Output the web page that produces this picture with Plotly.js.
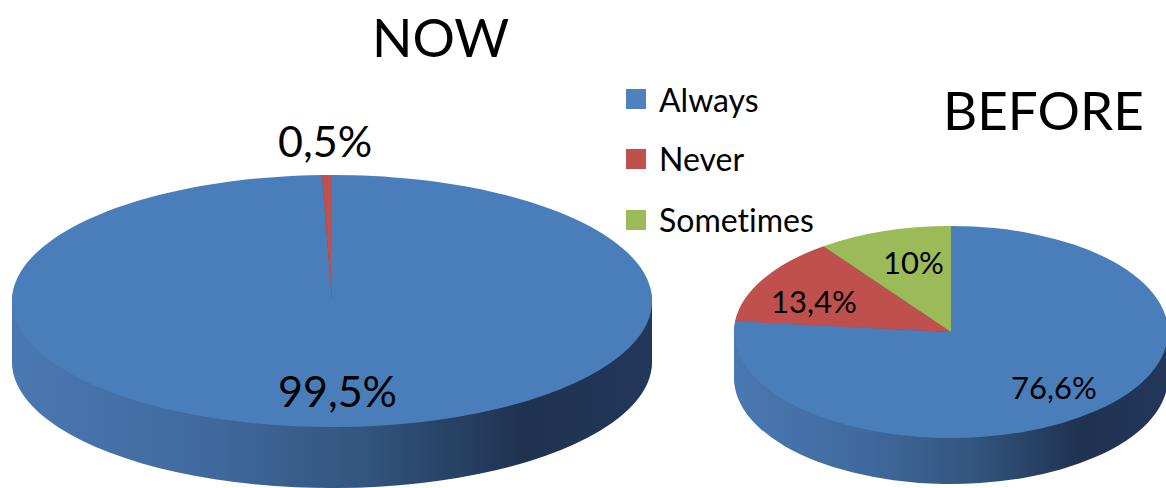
<!DOCTYPE html>
<html><head><meta charset="utf-8">
<script src="https://cdn.plot.ly/plotly-3.0.1.min.js"></script>
<style>html,body{margin:0;padding:0;background:#fff;} #chart{width:1166px;height:488px;}
svg text{font-variant-ligatures:none;font-feature-settings:"liga" 0,"clig" 0;}</style>
</head><body><div id="chart"></div>
<script>
// ---------------- data ----------------
const categories = ['Always', 'Never', 'Sometimes'];
const nowLabels = ['Always', 'Never'];
const nowValues = [99.5, 0.5];
const beforeLabels = ['Always', 'Never', 'Sometimes'];
const beforeValues = [76.6, 13.4, 10];
const chartTitles = ['NOW', 'BEFORE'];

// ---------------- style ----------------
const W = 1166, H = 488;
const FONT = 'Lato, "Open Sans", sans-serif';
const topColors = {Always: '#4a7ebb', Never: '#c0504d', Sometimes: '#9bbb59'};
const legendColors = {Always: '#4f81bd', Never: '#c0504d', Sometimes: '#9bbb59'};
// disc geometry (pixels): centre, semi-axes, thickness
const discs = [
  {labels: nowLabels, values: nowValues, cx: 332, cy: 301, a: 320, b: 126, depth: 61, grad: 'sideGradNow',
   title: {x: 440, y: 37}, labelSize: 43, labelPos: [{x: 337, y: 390}, {x: 325, y: 141}]},
  {labels: beforeLabels, values: beforeValues, cx: 951, cy: 332, a: 217, b: 106, depth: 46, grad: 'sideGradBefore',
   title: {x: 1043, y: 110}, labelSize: 31, labelPos: [{x: 1054, y: 387}, {x: 814, y: 301}, {x: 913, y: 262}]}
];
const legendPos = {x: 626, ys: [99, 159, 220], box: 20, textX: 657, size: 32};

function domainFor(d, dy) {
  const halfW = d.b + 10;
  return {
    x: [(d.cx - halfW) / W, (d.cx + halfW) / W],
    y: [Math.max(0, 1 - (d.cy + dy + d.b) / H), 1 - (d.cy + dy - d.b) / H]
  };
}
function fmt(v) { return String(v).replace('.', ',') + '%'; }

// ---------------- traces ----------------
const traces = [];
const traceMeta = [];
discs.forEach((d, di) => {
  // side (thickness) layers, drawn first, from deepest upward
  const offs = [];
  for (let o = d.depth; o > 0; o -= 3) offs.push(o);
  offs.forEach(o => {
    traces.push({
      type: 'pie', labels: d.labels, values: d.values, sort: false, direction: 'clockwise', rotation: 0,
      domain: domainFor(d, o), textinfo: 'none', hoverinfo: 'skip', showlegend: false,
      marker: {colors: d.labels.map(() => '#2c4a73'), line: {width: 0}}
    });
    traceMeta.push({disc: di, side: true});
  });
  // top face
  traces.push({
    type: 'pie', labels: d.labels, values: d.values, sort: false, direction: 'clockwise', rotation: 0,
    domain: domainFor(d, 0), textinfo: 'none', hoverinfo: 'label+percent', showlegend: false,
    marker: {colors: d.labels.map(l => topColors[l]), line: {width: 0}}
  });
  traceMeta.push({disc: di, side: false});
});

// ---------------- annotations / legend ----------------
const annotations = [];
const shapes = [];
discs.forEach((d, di) => {
  annotations.push({text: chartTitles[di], x: d.title.x / W, y: 1 - d.title.y / H, xref: 'paper', yref: 'paper',
    xanchor: 'center', yanchor: 'middle', showarrow: false, font: {family: FONT, size: 53, color: '#000'}});
  d.values.forEach((v, i) => {
    const p = d.labelPos[i];
    annotations.push({text: fmt(v), x: p.x / W, y: 1 - p.y / H, xref: 'paper', yref: 'paper',
      xanchor: 'center', yanchor: 'middle', showarrow: false,
      font: {family: FONT, size: d.labelSize, color: '#000'}});
  });
});
categories.forEach((c, i) => {
  const yc = legendPos.ys[i];
  shapes.push({type: 'rect', xref: 'paper', yref: 'paper', line: {width: 0}, fillcolor: legendColors[c],
    x0: legendPos.x / W, x1: (legendPos.x + legendPos.box) / W,
    y0: 1 - (yc + legendPos.box / 2) / H, y1: 1 - (yc - legendPos.box / 2) / H});
  annotations.push({text: c, x: legendPos.textX / W, y: 1 - yc / H, xref: 'paper', yref: 'paper',
    xanchor: 'left', yanchor: 'middle', showarrow: false, font: {family: FONT, size: legendPos.size, color: '#000'}});
});

const layout = {
  width: W, height: H, margin: {l: 0, r: 0, t: 0, b: 0},
  paper_bgcolor: '#ffffff', plot_bgcolor: '#ffffff', showlegend: false,
  annotations: annotations, shapes: shapes
};

Plotly.newPlot('chart', traces, layout, {displayModeBar: false, responsive: false}).then(gd => {
  const layer = gd.querySelector('.pielayer');
  const svg = layer.ownerSVGElement;
  const NS = 'http://www.w3.org/2000/svg';
  const defs = document.createElementNS(NS, 'defs');
  svg.insertBefore(defs, svg.firstChild);
  const groups = layer.querySelectorAll(':scope > .trace');
  const made = {};
  gd.calcdata.forEach((cd, i) => {
    const cd0 = cd[0];
    const m = traceMeta[i];
    const d = discs[m.disc];
    const sx = d.a / cd0.r, sy = d.b / cd0.r;
    const g = groups[i];
    g.setAttribute('transform', `translate(${cd0.cx},${cd0.cy}) scale(${sx},${sy}) translate(${-cd0.cx},${-cd0.cy})`);
    if (m.side) {
      if (!made[d.grad]) {
        const lg = document.createElementNS(NS, 'linearGradient');
        lg.setAttribute('id', d.grad);
        lg.setAttribute('gradientUnits', 'userSpaceOnUse');
        lg.setAttribute('x1', cd0.cx - cd0.r); lg.setAttribute('x2', cd0.cx + cd0.r);
        lg.setAttribute('y1', 0); lg.setAttribute('y2', 0);
        [[0, '#4a78b2'], [0.3, '#406a9e'], [0.55, '#33557f'], [0.8, '#1f3250'], [1, '#22375a']].forEach(s => {
          const st = document.createElementNS(NS, 'stop');
          st.setAttribute('offset', s[0]); st.setAttribute('stop-color', s[1]);
          lg.appendChild(st);
        });
        defs.appendChild(lg);
        made[d.grad] = true;
      }
      g.querySelectorAll('path.surface').forEach(p => { p.style.fill = `url(#${d.grad})`; });
    }
  });
});
</script>
</body></html>
